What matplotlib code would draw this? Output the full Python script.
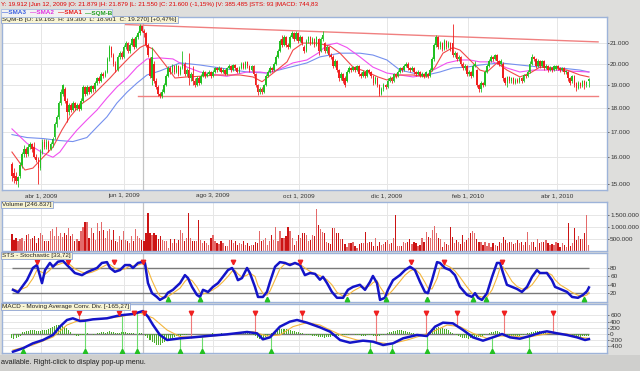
import numpy as np
import matplotlib
matplotlib.use("Agg")
import matplotlib.pyplot as plt
from matplotlib.patches import Rectangle
from matplotlib.ticker import NullLocator

W, H = 640, 371
plt.rcParams["font.family"] = ["Liberation Sans", "DejaVu Sans"]

# ---------------- datos (SQM-B, diario) ----------------
opens = [
    15.75, 15.40, 15.30, 15.10, 15.30, 15.70, 16.10, 16.30, 16.10, 16.40,
    16.50, 16.40, 16.00, 15.90, 15.60, 16.20, 16.60, 16.40, 16.60, 16.30,
    16.50, 16.80, 17.30, 17.60, 18.20, 18.60, 18.80, 18.30, 17.80, 18.10,
    17.90, 18.20, 18.00, 18.10, 17.95, 18.30, 18.90, 18.60, 18.90, 18.70,
    18.95, 18.80, 19.10, 19.30, 19.20, 19.50, 19.40, 19.60, 20.20, 20.80,
    20.40, 20.00, 19.70, 20.30, 20.50, 20.30, 20.80, 21.00, 20.60, 20.90,
    21.20, 20.80, 21.30, 21.50, 21.88, 21.60, 21.50, 20.90, 20.20, 19.30,
    20.00, 19.20, 18.90, 18.60, 18.50, 18.70, 19.00, 19.40, 19.80, 19.60,
    19.90, 19.60, 19.90, 19.50, 19.80, 20.00, 19.50, 19.70, 19.30, 19.50,
    19.20, 19.00, 19.30, 19.10, 19.40, 19.60, 19.40, 19.50, 19.60, 19.40,
    19.60, 19.80, 19.70, 19.80, 19.60, 19.70, 19.50, 19.80, 19.90, 19.70,
    19.95, 19.80, 19.60, 19.80, 20.00, 19.80, 20.05, 19.90, 19.70, 19.90,
    19.50, 19.00, 18.70, 18.80, 18.70, 19.00, 19.40, 19.60, 19.80, 19.70,
    20.00, 20.30, 20.60, 21.20, 20.90, 21.30, 20.90, 20.80, 21.30, 21.50,
    21.20, 21.50, 21.10, 21.30, 20.80, 20.60, 21.10, 21.30, 21.00, 21.20,
    20.90, 21.20, 20.60, 21.20, 21.00, 20.60, 20.80, 20.40, 20.30, 19.90,
    20.10, 19.70, 19.30, 19.50, 19.30, 19.20, 19.60, 19.80, 19.70, 19.85,
    19.70, 19.90, 19.50, 19.40, 19.60, 19.40, 19.70, 19.60, 19.40, 19.10,
    19.30, 19.00, 18.60, 18.80, 19.00, 18.90, 19.20, 19.30, 19.20, 19.50,
    19.40, 19.60, 19.80, 19.70, 19.90, 20.00, 19.80, 19.70, 19.80, 19.60,
    19.50, 19.60, 19.40, 19.50, 19.40, 19.50, 19.40, 19.70, 20.20, 20.90,
    21.30, 20.80, 21.00, 20.70, 21.10, 20.80, 21.00, 21.00, 20.40, 20.50,
    20.20, 20.30, 20.00, 19.80, 19.90, 19.50, 19.60, 19.40, 19.90, 19.70,
    19.00, 18.80, 19.10, 19.00, 19.60, 19.90, 20.10, 20.30, 20.20, 20.40,
    20.10, 20.00, 20.00, 19.30, 19.10, 19.35, 19.20, 19.30, 19.10, 19.25,
    19.15, 19.30, 19.20, 19.45, 19.40, 19.60, 20.00, 20.30, 20.20, 19.90,
    20.10, 19.90, 20.10, 19.80, 19.90, 19.70, 19.80, 19.70, 19.75, 19.90,
    19.80, 19.70, 19.80, 19.60, 19.60, 19.30, 19.20, 19.40, 19.10, 18.85,
    19.10, 18.95, 19.20, 19.00, 19.165]
closes = [
    15.30, 15.20, 15.10, 15.25, 15.70, 16.10, 16.30, 16.10, 16.40, 16.50,
    16.30, 16.00, 15.90, 15.60, 16.20, 16.60, 16.40, 16.60, 16.30, 16.50,
    16.70, 17.30, 17.60, 18.20, 18.70, 19.00, 18.30, 17.80, 18.10, 17.90,
    18.20, 18.00, 18.10, 17.95, 18.30, 18.90, 18.60, 18.90, 18.70, 18.95,
    18.80, 19.10, 19.30, 19.20, 19.50, 19.40, 19.60, 20.20, 20.80, 20.40,
    20.00, 19.70, 20.30, 20.50, 20.30, 20.80, 21.00, 20.60, 20.90, 21.20,
    20.80, 21.30, 21.50, 21.85, 21.60, 21.50, 20.90, 20.40, 19.40, 20.30,
    19.20, 18.90, 18.60, 18.50, 18.70, 19.00, 19.40, 19.80, 19.60, 19.90,
    19.60, 19.90, 19.50, 19.80, 20.00, 19.50, 19.70, 19.30, 19.50, 19.20,
    19.00, 19.30, 19.10, 19.40, 19.60, 19.40, 19.50, 19.60, 19.40, 19.60,
    19.80, 19.70, 19.80, 19.60, 19.70, 19.50, 19.80, 19.90, 19.70, 19.95,
    19.80, 19.60, 19.80, 20.00, 19.80, 20.05, 19.90, 19.70, 19.90, 19.50,
    19.00, 18.70, 18.80, 18.70, 19.00, 19.40, 19.60, 19.80, 19.70, 20.00,
    20.30, 20.60, 21.10, 20.90, 21.30, 20.90, 20.80, 21.30, 21.50, 21.20,
    21.50, 21.10, 21.30, 21.00, 20.60, 21.10, 21.30, 21.00, 21.20, 20.90,
    21.30, 20.60, 21.20, 21.40, 20.60, 20.80, 20.40, 20.30, 19.90, 20.10,
    19.70, 19.30, 19.50, 19.20, 19.00, 19.60, 19.80, 19.70, 19.85, 19.70,
    19.90, 19.50, 19.40, 19.60, 19.40, 19.70, 19.60, 19.40, 19.10, 19.30,
    19.00, 18.60, 18.80, 19.00, 18.90, 19.20, 19.30, 19.20, 19.50, 19.40,
    19.60, 19.80, 19.70, 19.90, 20.00, 19.80, 19.70, 19.80, 19.60, 19.50,
    19.60, 19.40, 19.50, 19.40, 19.60, 19.40, 19.70, 20.20, 20.90, 21.30,
    20.80, 21.00, 20.70, 21.10, 20.80, 21.00, 20.70, 20.40, 20.50, 20.20,
    20.30, 20.00, 19.80, 19.90, 19.50, 19.60, 19.40, 19.90, 20.00, 19.00,
    18.80, 19.10, 19.00, 19.60, 19.90, 20.10, 20.30, 20.20, 20.40, 20.10,
    20.00, 20.10, 19.30, 19.10, 19.35, 19.20, 19.30, 19.10, 19.25, 19.15,
    19.30, 19.20, 19.45, 19.40, 19.60, 20.00, 20.30, 20.20, 19.90, 20.10,
    19.90, 20.10, 19.80, 19.90, 19.70, 19.80, 19.70, 19.90, 19.90, 19.80,
    19.70, 19.80, 19.60, 19.65, 19.30, 19.10, 19.40, 19.00, 18.85, 19.10,
    18.95, 19.20, 19.00, 19.15, 19.27]
highs = [
    15.80, 15.60, 15.45, 15.30, 15.80, 16.20, 16.45, 16.40, 16.50, 16.60,
    16.55, 16.60, 16.10, 16.00, 16.30, 16.70, 16.70, 16.70, 16.65, 16.60,
    16.80, 17.40, 17.70, 18.30, 18.80, 19.05, 18.90, 18.40, 18.20, 18.20,
    18.30, 18.25, 18.20, 18.20, 18.40, 19.00, 18.95, 19.00, 18.95, 19.00,
    19.00, 19.20, 19.35, 19.40, 19.60, 19.60, 19.70, 20.30, 20.90, 20.85,
    20.50, 20.10, 20.40, 20.60, 20.60, 20.90, 21.10, 21.05, 21.00, 21.30,
    21.25, 21.40, 21.60, 22.00, 21.88, 21.70, 21.55, 21.00, 20.30, 20.80,
    20.10, 19.30, 19.00, 18.70, 18.80, 19.10, 19.50, 19.90, 19.90, 20.00,
    19.95, 20.00, 19.95, 19.90, 20.60, 20.05, 19.80, 20.50, 19.60, 19.90,
    19.30, 19.40, 19.40, 19.50, 19.70, 19.65, 19.60, 19.70, 19.65, 19.70,
    19.85, 19.85, 19.90, 19.85, 19.80, 19.75, 19.85, 20.00, 19.95, 20.00,
    20.00, 19.85, 19.90, 20.05, 20.05, 20.10, 20.10, 19.95, 19.95, 19.95,
    19.55, 19.05, 18.90, 18.90, 19.05, 19.50, 19.70, 19.90, 19.85, 20.05,
    20.40, 20.70, 21.20, 21.40, 21.40, 21.35, 21.00, 21.40, 21.60, 21.55,
    21.60, 21.55, 21.40, 21.35, 20.90, 21.20, 21.35, 21.35, 21.30, 21.25,
    21.35, 21.25, 21.30, 21.60, 21.05, 20.90, 20.85, 20.50, 20.40, 20.20,
    20.15, 19.75, 19.60, 19.55, 19.40, 19.70, 19.90, 19.85, 19.90, 19.90,
    19.95, 19.95, 19.60, 19.70, 19.65, 19.75, 19.75, 19.65, 19.45, 19.40,
    19.35, 19.05, 18.90, 19.10, 19.05, 19.30, 19.40, 19.35, 19.55, 19.55,
    19.70, 19.85, 19.85, 20.00, 20.05, 20.05, 19.85, 19.90, 19.85, 19.65,
    19.70, 19.65, 19.60, 19.55, 19.65, 19.55, 19.80, 20.30, 21.00, 21.40,
    21.35, 21.10, 21.05, 21.20, 21.15, 21.10, 21.05, 22.00, 20.60, 20.55,
    20.40, 20.35, 20.05, 20.00, 19.95, 19.70, 19.65, 20.00, 20.10, 19.75,
    19.05, 19.20, 19.15, 19.70, 20.00, 20.20, 20.40, 20.35, 20.45, 20.45,
    20.15, 20.20, 20.05, 19.35, 19.40, 19.40, 19.35, 19.35, 19.30, 19.30,
    19.35, 19.35, 19.50, 19.50, 19.70, 20.10, 20.45, 20.35, 20.25, 20.20,
    20.15, 20.15, 20.15, 20.00, 19.95, 19.90, 19.85, 19.95, 19.95, 19.95,
    19.85, 19.85, 19.85, 19.70, 19.65, 19.35, 19.45, 19.45, 19.15, 19.20,
    19.15, 19.25, 19.25, 19.20, 19.30]
lows = [
    15.10, 15.05, 15.00, 14.90, 15.20, 15.60, 16.00, 16.00, 16.05, 16.30,
    16.20, 15.95, 15.80, 15.00, 15.50, 16.10, 16.30, 16.30, 16.20, 16.25,
    16.40, 16.70, 17.20, 17.50, 18.10, 18.50, 18.20, 17.40, 17.70, 17.80,
    17.85, 17.90, 17.90, 17.85, 17.90, 18.25, 18.50, 18.55, 18.60, 18.65,
    18.70, 18.75, 19.00, 19.10, 19.15, 19.30, 19.35, 19.55, 20.10, 20.30,
    19.90, 19.60, 19.65, 20.20, 20.20, 20.25, 20.70, 20.50, 20.50, 20.85,
    20.70, 20.75, 21.20, 21.40, 21.55, 21.30, 20.80, 20.30, 19.30, 19.00,
    19.10, 18.80, 18.50, 18.40, 18.40, 18.65, 18.95, 19.35, 19.50, 19.55,
    19.50, 19.55, 19.40, 19.45, 19.75, 19.40, 19.40, 19.00, 19.20, 19.00,
    18.90, 18.95, 19.00, 19.05, 19.35, 19.30, 19.35, 19.45, 19.30, 19.35,
    19.55, 19.60, 19.65, 19.55, 19.55, 19.45, 19.45, 19.75, 19.60, 19.65,
    19.70, 19.55, 19.55, 19.75, 19.75, 19.75, 19.80, 19.60, 19.65, 19.40,
    18.90, 18.55, 18.60, 18.60, 18.65, 18.95, 19.35, 19.55, 19.60, 19.65,
    19.95, 20.25, 20.55, 20.80, 20.85, 20.80, 20.70, 20.75, 21.25, 21.10,
    21.15, 21.00, 21.05, 20.90, 20.50, 20.55, 21.00, 20.90, 20.95, 20.80,
    20.85, 20.40, 20.55, 21.10, 20.50, 20.50, 20.30, 20.20, 19.80, 19.85,
    19.60, 19.20, 19.25, 19.10, 18.90, 19.15, 19.55, 19.60, 19.65, 19.60,
    19.65, 19.40, 19.30, 19.35, 19.30, 19.35, 19.50, 19.30, 19.00, 19.05,
    18.90, 18.50, 18.55, 18.75, 18.80, 18.85, 19.15, 19.10, 19.15, 19.30,
    19.35, 19.55, 19.60, 19.65, 19.85, 19.70, 19.60, 19.65, 19.50, 19.40,
    19.45, 19.35, 19.35, 19.30, 19.35, 19.30, 19.35, 19.65, 20.10, 20.80,
    20.70, 20.70, 20.60, 20.65, 20.70, 20.75, 20.60, 20.30, 20.30, 20.10,
    20.10, 19.90, 19.70, 19.70, 19.40, 19.40, 19.30, 19.35, 19.85, 18.90,
    18.70, 18.70, 18.90, 18.95, 19.55, 19.85, 20.05, 20.10, 20.15, 20.00,
    19.90, 19.95, 19.20, 19.00, 18.90, 19.10, 19.10, 19.05, 19.05, 19.10,
    19.10, 19.10, 19.15, 19.30, 19.35, 19.55, 19.95, 20.10, 19.80, 19.85,
    19.80, 19.85, 19.70, 19.75, 19.60, 19.65, 19.60, 19.65, 19.70, 19.70,
    19.60, 19.65, 19.50, 19.50, 19.20, 19.00, 19.10, 18.90, 18.75, 18.80,
    18.85, 18.90, 18.80, 18.90, 18.901]

# volumen en millones de acciones
volumes = [
    0.71, 0.46, 0.53, 0.39, 0.49, 0.53, 0.39, 0.67, 0.71, 0.49,
    0.55, 0.60, 0.32, 0.53, 0.74, 0.67, 0.42, 0.42, 0.39, 0.81,
    0.90, 0.62, 0.99, 0.60, 0.74, 0.57, 0.74, 0.67, 0.94, 0.60,
    0.71, 0.39, 0.50, 0.39, 0.81, 1.01, 1.19, 1.19, 0.53, 0.94,
    0.74, 0.46, 1.15, 0.85, 1.19, 0.88, 0.53, 0.81, 0.90, 0.46,
    0.88, 0.39, 0.35, 0.60, 0.45, 0.81, 0.46, 0.39, 0.32, 0.60,
    0.39, 0.90, 0.60, 0.52, 0.46, 0.39, 0.74, 1.57, 0.74, 0.67,
    0.74, 0.67, 0.49, 0.60, 0.46, 0.39, 0.42, 0.11, 0.49, 0.32,
    0.49, 0.32, 0.46, 0.88, 0.74, 0.39, 0.53, 1.57, 0.53, 0.39,
    0.39, 0.39, 1.29, 0.46, 0.32, 0.39, 0.32, 0.25, 0.53, 0.67,
    0.39, 0.32, 0.30, 0.39, 0.32, 0.18, 0.18, 0.46, 0.46, 0.32,
    0.39, 0.25, 0.32, 0.28, 0.39, 0.25, 0.32, 0.18, 0.25, 0.25,
    0.35, 0.32, 0.81, 0.39, 0.45, 0.53, 0.25, 0.39, 0.67, 0.46,
    1.01, 0.39, 0.81, 0.53, 0.53, 0.60, 1.01, 0.81, 0.53, 0.25,
    0.39, 0.67, 0.53, 0.74, 0.74, 0.67, 0.39, 0.46, 0.67, 0.60,
    1.74, 1.08, 0.90, 0.80, 0.73, 0.38, 0.34, 0.28, 0.94, 0.94,
    0.73, 0.73, 0.48, 0.48, 0.28, 0.17, 0.31, 0.31, 0.38, 0.21,
    0.10, 0.30, 0.31, 0.31, 0.80, 0.31, 0.38, 0.38, 0.20, 0.52,
    0.20, 0.38, 0.25, 0.28, 0.38, 0.45, 0.28, 0.31, 0.52, 1.50,
    0.20, 0.20, 0.20, 0.38, 0.31, 0.38, 0.48, 0.28, 0.38, 0.31,
    0.20, 0.24, 0.52, 0.38, 0.80, 0.59, 0.52, 0.87, 1.04, 0.76,
    0.52, 0.48, 0.17, 0.38, 0.28, 0.24, 1.01, 0.56, 0.31, 0.45,
    0.38, 0.28, 0.66, 0.35, 0.45, 0.52, 0.73, 0.84, 0.73, 0.48,
    0.38, 0.38, 0.24, 0.38, 0.20, 0.31, 0.17, 0.31, 0.24, 0.20,
    0.38, 0.31, 0.59, 0.45, 0.31, 0.38, 0.38, 0.28, 0.31, 0.45,
    0.31, 0.38, 0.24, 0.38, 0.80, 0.24, 0.38, 0.38, 0.17, 0.48,
    0.31, 0.38, 0.38, 0.45, 0.31, 0.24, 0.28, 0.24, 0.38, 0.31,
    0.17, 0.31, 0.24, 0.17, 1.15, 0.20, 0.31, 0.94, 0.45, 0.62,
    0.48, 0.48, 0.73, 1.50, 0.247]

# medias moviles (dia, precio)
sma1_days = [0, 6.4, 10.3, 15.3, 20.2, 24.6, 28.6, 33.5, 38.4, 43.3, 48.3, 53.2, 58.1,
             63.1, 65.5, 69.5, 76.4, 80.3, 86.2, 92.6, 101, 112.3, 118.7, 123.2, 130.5,
             135.5, 138.4, 143.3, 150.2, 156.7, 161.6, 168, 174.9, 180.3, 184.7, 191.1,
             197.5, 204.4, 208.4, 212.3, 217.2, 220.7, 225.6, 230.5, 234, 238.9, 243.8,
             250.2, 255.2, 260.1, 266.5, 273.4, 279.8, 284.2]
sma1 = [16.19, 15.51, 15.58, 15.99, 16.38, 17.06, 17.61, 18.11, 18.42, 18.86, 19.32,
        19.83, 20.32, 20.78, 20.90, 20.70, 19.83, 19.32, 19.37, 19.40, 19.46, 19.46,
        19.37, 19.15, 19.69, 20.08, 20.65, 21.00, 21.00, 20.85, 20.50, 19.83, 19.60,
        19.37, 19.23, 19.46, 19.46, 19.37, 19.83, 20.50, 20.78, 20.65, 20.17, 19.69,
        19.60, 20.03, 19.69, 19.37, 19.55, 19.83, 19.79, 19.69, 19.46, 19.37]
sma2_days = [0, 7.4, 15.3, 20.2, 23.6, 27.1, 32, 36.9, 41.9, 46.8, 51.7, 56.7, 61.6,
             66.5, 72.9, 79.3, 86.2, 92.6, 101, 105.9, 115.8, 122.2, 125.6, 132, 138.4,
             145.3, 150.7, 155.2, 160.1, 165, 171.4, 177.8, 184.7, 191.1, 197.5, 204.4,
             207.4, 214.3, 220.7, 225.6, 230.5, 236.9, 243.8, 250.2, 256.7, 266.5, 273.4,
             284.2]
sma2 = [17.11, 16.53, 16.15, 15.99, 16.19, 16.58, 17.06, 17.48, 17.90, 18.42, 18.91,
        19.32, 19.83, 20.22, 20.27, 20.22, 19.83, 19.60, 19.46, 19.40, 19.60, 19.60,
        19.55, 19.74, 20.03, 20.17, 20.50, 20.90, 21.00, 20.78, 20.32, 19.83, 19.55,
        19.46, 19.37, 19.46, 19.69, 20.03, 20.17, 20.17, 20.08, 20.08, 19.79, 19.60,
        19.69, 19.69, 19.65, 19.60]
sma3_days = [0, 7.4, 15.3, 23.6, 30, 36.9, 41.9, 46.8, 51.7, 56.7, 61.6, 66.5, 72.9,
             82.8, 92.6, 102.5, 115.8, 125.6, 135.5, 145.3, 151.7, 161.6, 171.4, 177.8,
             184.7, 191.1, 197.5, 204.4, 210.8, 217.2, 224.1, 230.5, 240.4, 250.2, 260.1,
             270, 279.8, 284.2]
sma3 = [16.88, 16.76, 16.72, 16.64, 16.60, 16.76, 17.19, 17.61, 18.20, 18.68, 19.09,
        19.46, 19.65, 20.03, 19.93, 19.79, 19.60, 19.55, 19.79, 20.03, 20.32, 20.50,
        20.50, 20.41, 20.17, 19.69, 19.55, 19.46, 19.60, 19.79, 19.83, 19.93, 20.03,
        19.93, 19.83, 19.79, 19.69, 19.60]

# lineas de soporte / resistencia
resist_days, resist_prices = [56, 288.7], [21.95, 21.06]
support_days, support_prices = [62, 288.7], [18.5, 18.5]

# estocastico %K / %D
sts_days = [0.5, 3, 7.4, 10.3, 12.3, 14.8, 16.3, 18.7, 20.2, 22.7, 25.1, 27.1, 28.6, 31,
            34.5, 37, 39.4, 41.9, 44.3, 46.8, 48.3, 50.7, 53.2, 55.7, 58.1, 59.6, 62.1, 64,
            65.5, 67, 69, 71.4, 72.9, 75.4, 76.8, 79.3, 82.8, 85.2, 86.7, 88.7, 91.1, 92.6,
            94.1, 96.6, 99, 101.5, 103.9, 106.4, 108.4, 109.9, 111.3, 113.3, 115.8, 117.2,
            119.7, 121.2, 123.6, 125.6, 127.1, 129.6, 132, 134.5, 136.9, 139.4, 141.9,
            144.3, 146.8, 149.3, 151.7, 153.2, 155.2, 157.6, 160.1, 163.1, 165.5, 168,
            171.4, 173.9, 176.4, 177.8, 179.8, 181.3, 183.7, 185.2, 187.7, 191.1, 193.6,
            196.1, 198.5, 201, 203.4, 204.9, 206.9, 209.4, 210.8, 213.3, 215.8, 218.2,
            220.7, 224.1, 226.6, 228.1, 229.6, 231.5, 234, 236.5, 238.9, 240.4, 241.9,
            243.8, 246.3, 248.8, 251.2, 253.7, 256.2, 258.6, 260.1, 263.5, 266, 267.5, 270,
            273.4, 275.9, 278.8, 281.3, 283.3, 284.2]
sts_k = [28, 22, 51, 80, 87, 44, 75, 92, 83, 95, 97, 87, 80, 68, 63, 70, 75, 80, 92, 94,
         80, 71, 75, 87, 87, 80, 92, 94, 92, 44, 20, 11, 4, 11, 21, 28, 44, 63, 56, 35, 16,
         11, 28, 23, 35, 44, 59, 75, 80, 68, 51, 56, 80, 68, 35, 11, 11, 23, 47, 83, 94,
         92, 87, 92, 87, 63, 68, 66, 52, 59, 44, 23, 9, 9, 28, 35, 40, 28, 47, 61, 44, 4,
         9, 28, 51, 63, 75, 83, 75, 47, 23, 20, 51, 94, 92, 80, 75, 63, 35, 16, 11, 20, 9,
         4, 20, 59, 92, 92, 68, 40, 35, 30, 23, 35, 59, 75, 68, 68, 51, 35, 30, 23, 11, 9,
         16, 25, 33.7]
sts_d = [30, 26, 35, 55, 75, 70, 65, 75, 85, 88, 92, 92, 88, 78, 70, 67, 70, 75, 82, 88,
         88, 80, 75, 78, 85, 85, 87, 90, 92, 75, 50, 25, 13, 9, 12, 20, 32, 48, 55, 50, 35,
         22, 18, 22, 28, 36, 47, 60, 72, 74, 66, 58, 63, 68, 60, 38, 20, 15, 25, 52, 78,
         90, 91, 90, 89, 80, 72, 66, 62, 58, 52, 40, 22, 13, 15, 25, 34, 34, 38, 45, 50,
         35, 18, 15, 28, 48, 63, 73, 78, 66, 46, 32, 30, 55, 78, 88, 82, 73, 58, 35, 20,
         15, 13, 11, 11, 28, 57, 80, 83, 68, 48, 36, 30, 30, 40, 56, 67, 70, 63, 52, 40,
         30, 22, 15, 12, 16, 22]
sts_sell_days = [12.3, 27.6, 50.2, 64.5, 108.9, 141.9, 196.5, 212.8, 241.4]
sts_buy_days = [76.8, 92.6, 125.6, 165.0, 184.2, 204.4, 227.1, 233.5, 281.8]

# MACD
macd_days = [0.5, 5.4, 10.3, 15.3, 20.2, 23.6, 27.1, 30, 33.5, 36, 39.9, 46.8, 51.7, 54.7,
             59.6, 64.5, 67, 69.5, 72.9, 76.4, 82.8, 89.2, 96.1, 105.9, 115.8, 120.7,
             123.6, 127.1, 132, 136.9, 140.4, 145.3, 151.7, 156.7, 161.6, 166.5, 172.9,
             177.8, 182.8, 187.7, 192.6, 199.5, 204.4, 208.4, 212.3, 217.2, 222.2, 227.1,
             232, 236.9, 241.4, 245.3, 250.2, 255.2, 260.1, 263.5, 268.5, 273.4, 278.3,
             282.3, 284.2]
macd_line = [-571, -462, -301, -194, -32, 237, 452, 506, 419, 430, 473, 506, 581, 613,
             645, 740, 559, 290, -32, -194, -140, -108, -65, -11, 65, 22, -172, -108, 237,
             398, 452, 366, 215, 75, -194, -280, -215, -247, -355, -301, -140, -32, -65,
             237, 366, 344, 129, -108, -215, -108, 0, -108, -151, -65, 43, 86, 22, -32,
             -108, -194, -165]
signal_days = [0.5, 10.3, 20.2, 27.1, 33.5, 43.3, 53.2, 63.1, 69.5, 76.4, 82.8, 92.6,
               108.9, 118.7, 125.6, 132, 138.4, 145.3, 151.7, 156.7, 163.1, 170, 177.8,
               186.2, 194.6, 201, 207.4, 214.3, 220.7, 227.1, 234, 240.4, 246.8, 253.7,
               260.1, 266.5, 273.4, 279.8, 284.2]
signal_line = [-516, -355, -97, 290, 452, 484, 559, 677, 516, 129, -86, -108, 0, 75, -65,
               -32, 237, 366, 290, 129, -65, -194, -247, -323, -194, -65, 75, 290, 237,
               22, -140, -65, -65, -108, -32, 43, 0, -108, -140]
macd_hist = [
    -120, -150, -130, -100, -60, 60, 80, 100, 110, 130,
    140, 120, 100, 90, 100, 120, 130, 140, 170, 200,
    230, 260, 280, 290, 280, 260, 230, 180, 120, 60,
    10, -30, -50, -60, -40, -20, 0, 20, 10, -10,
    -20, 10, 30, 40, 60, 50, 40, 70, 90, 80,
    60, 40, 30, 40, 50, 60, 50, 40, 30, 20,
    20, 10, 0, 20, 30, 10, -50, -120, -200, -260,
    -300, -340, -355, -340, -300, -260, -220, -180, -150, -120,
    -100, -80, -60, -50, -40, -30, -20, -10, -10, 0,
    5, 0, -10, -10, 0, 10, 10, 15, 10, 20,
    15, 10, 10, 20, 15, 10, 10, 20, 20, 30,
    20, 40, 50, 60, 50, 40, 30, 20, 0, -40,
    -80, -120, -150, -140, -120, -90, -50, -10, 40, 80,
    120, 150, 160, 170, 160, 150, 140, 120, 100, 90,
    80, 60, 40, 20, 0, -20, -30, -40, -50, -60,
    -80, -90, -100, -110, -120, -110, -100, -90, -80, -70,
    -60, -50, -40, -30, -30, -20, -20, -10, -10, -20,
    -30, -40, -50, -60, -50, -40, -30, -40, -50, -60,
    -70, -60, -40, -20, 0, 20, 50, 80, 100, 110,
    120, 130, 120, 110, 100, 80, 60, 40, 20, 0,
    -10, -20, -10, 0, 20, 60, 100, 150, 180, 200,
    210, 200, 190, 170, 150, 120, 80, 40, 0, -40,
    -70, -100, -120, -130, -140, -150, -140, -130, -120, -110,
    -100, -90, -60, -30, 0, 30, 60, 80, 100, 90,
    70, 40, 10, -20, -40, -60, -70, -80, -70, -60,
    -50, -40, -20, 0, 20, 40, 60, 80, 90, 100,
    90, 80, 70, 60, 40, 20, 10, 0, -10, -20,
    -30, -40, -30, -30, -40, -50, -60, -70, -80, -90,
    -90, -80, -70, -60, -50]
macd_sell_days = [33.0, 52.7, 60.1, 65.0, 88.2, 119.7, 142.9, 179.3, 204.0, 219.2, 242.4, 266.5]
macd_buy_days = [5.4, 36.0, 54.2, 61.6, 82.8, 93.6, 127.6, 176.4, 187.2, 204.4, 236.5, 254.7]

tick_days = [14.3, 55.2, 99.0, 141.4, 184.7, 224.6, 268.5]
tick_labels = ["abr 1, 2009", "jun 1, 2009", "ago 3, 2009", "oct 1, 2009",
               "dic 1, 2009", "feb 1, 2010", "abr 1, 2010"]
cursor_day = 64.5

# ---------------- estilo ----------------
FS = 4.6
BORDE = "#9db3d9"
VERDE = "#22c022"
ROJO = "#f02020"
AZUL = "#1414c8"
NARANJA = "#f4b63c"
BG = "#dededc"

fig = plt.figure(figsize=(6.4, 3.71), dpi=100)
fig.patch.set_facecolor(BG)


def rect(x0, y0, x1, y1):
    return [x0 / W, 1 - y1 / H, (x1 - x0) / W, (y1 - y0) / H]


def panel(r):
    ax = fig.add_axes(r)
    ax.set_facecolor("white")
    for sp in ax.spines.values():
        sp.set_edgecolor(BORDE)
        sp.set_linewidth(1.0)
    ax.set_xlim(-4.9, 293.1)
    ax.set_xticks(tick_days)
    ax.tick_params(axis="x", length=0, labelbottom=False)
    ax.yaxis.tick_right()
    ax.tick_params(axis="y", labelsize=FS, length=1.5, width=0.5, pad=0.8,
                   colors="#333333")
    ax.grid(True, color="#e6e6e6", lw=0.7)
    ax.set_axisbelow(True)
    ax.axvline(cursor_day, color="#c4c4c4", lw=0.9, zorder=1)
    return ax


def etiqueta(ax, texto):
    ax.text(0.0, 1.0, texto, transform=ax.transAxes, ha="left", va="top",
            fontsize=FS, color="#222222", zorder=10,
            bbox=dict(boxstyle="square,pad=0.2", fc="#f8f4d2", ec="#8ea4d4", lw=0.6))


x = np.arange(len(closes))
o = np.array(opens)
c = np.array(closes)
up = c >= o
col = np.where(up, VERDE, ROJO)

# ---- precio ----
ax_p = panel(rect(2, 17, 607, 190))
ax_p.set_yscale("log")
ax_p.set_ylim(14.787, 22.35)
ax_p.set_yticks([15, 16, 17, 18, 19, 20, 21])
ax_p.set_yticklabels(["15.000", "16.000", "17.000", "18.000", "19.000", "20.000", "21.000"])
ax_p.yaxis.set_minor_locator(NullLocator())
ax_p.tick_params(axis="x", labelbottom=True, labelsize=FS, pad=2.5, colors="#333333")
ax_p.set_xticklabels(tick_labels)
ax_p.plot(sma3_days, sma3, color="#7590ee", lw=0.8, zorder=2)
ax_p.plot(sma2_days, sma2, color="#f050f0", lw=0.8, zorder=2)
ax_p.plot(sma1_days, sma1, color="#f24848", lw=0.8, zorder=2)
ax_p.plot(resist_days, resist_prices, color="#f08080", lw=1.0, zorder=2)
ax_p.plot(support_days, support_prices, color="#f08080", lw=1.0, zorder=2)
ax_p.vlines(x, lows, highs, colors=col, lw=0.6, zorder=3)
ax_p.bar(x, np.maximum(np.abs(c - o), 0.025), bottom=np.minimum(o, c), width=0.8,
         color=col, lw=0, zorder=3)
etiqueta(ax_p, "SQM-B [O: 19.165  H: 19.300  L: 18.901  C: 19.270] [+0,47%]")

# ---- volumen ----
ax_v = panel(rect(2, 202, 607, 251))
ax_v.bar(x, volumes, width=0.6, color=np.where(up, "#e46a6a", "#cc1414"), lw=0)
ax_v.set_ylim(-0.013, 2.05)
ax_v.set_yticks([0.5, 1.0, 1.5])
ax_v.set_yticklabels(["500.000", "1.000.000", "1.500.000"])
etiqueta(ax_v, "Volume [246.837]")

# ---- estocastico ----
ax_s = panel(rect(2, 253, 607, 302))
ax_s.set_ylim(-1, 115.7)
ax_s.set_yticks([20, 40, 60, 80])
ax_s.hlines([20, 80], x[0], x[-1], colors="#7a7a7a", lw=1.0, zorder=2)
ax_s.plot(sts_days, sts_d, color=NARANJA, lw=0.8, zorder=3)
ax_s.plot(sts_days, sts_k, color=AZUL, lw=1.8, zorder=4)
ax_s.plot(sts_sell_days, [94] * len(sts_sell_days), "v", color=ROJO, ms=3.2, zorder=5)
ax_s.plot(sts_buy_days, [6] * len(sts_buy_days), "^", color=VERDE, ms=3.2, zorder=5)
etiqueta(ax_s, "STS - Stochastic [33,72]")

# ---- MACD ----
ax_m = panel(rect(2, 304, 607, 353))
ax_m.set_ylim(-613, 968)
ax_m.set_yticks([-400, -200, 0, 200, 400, 600])
ax_m.set_yticklabels(["-400", "-200", "0", "200", "400", "600"])
ax_m.hlines(0, x[0], x[-1], colors="#7a7a7a", lw=1.0, zorder=2)
ax_m.bar(x, macd_hist, width=0.5, color="#4aac2a", lw=0, zorder=3)
sell_y = np.interp(macd_sell_days, macd_days, macd_line)
buy_y = np.interp(macd_buy_days, macd_days, macd_line)
ax_m.vlines(macd_sell_days, sell_y, 677, colors="#f07a7a", lw=0.8, zorder=3)
ax_m.vlines(macd_buy_days, -548, buy_y, colors="#6cdc6c", lw=0.8, zorder=3)
ax_m.plot(signal_days, signal_line, color=NARANJA, lw=0.8, zorder=4)
ax_m.plot(macd_days, macd_line, color=AZUL, lw=1.8, zorder=4)
ax_m.plot(macd_sell_days, [677] * len(macd_sell_days), "v", color=ROJO, ms=3.2, zorder=5)
ax_m.plot(macd_buy_days, [-548] * len(macd_buy_days), "^", color=VERDE, ms=3.2, zorder=5)
etiqueta(ax_m, "MACD - Moving Average Conv. Div. [-165,27]")

# ---- cabecera, leyenda y barra de estado ----
fig.text(1 / W, 1 - 4.5 / H,
         "Y: 19.912 |Jun 12, 2009 |O: 21.879 |H: 21.879 |L: 21.550 |C: 21.600 (-1,15%) "
         "|V: 385.485 |STS: 93 |MACD: 744,83",
         color="#e00000", fontsize=4.5, va="center", ha="left")
fig.patches.append(Rectangle((1 / W, 1 - 17 / H), 111 / W, 8 / H, transform=fig.transFigure,
                             fc="#f2f2f2", ec="#a8bce0", lw=0.6))
for xp, lab, cc in [(2, "—SMA3", "#3b5fe0"), (30, "—SMA2", "#e030e0"),
                    (58, "—SMA1", "#e82020"), (85, "—SQM-B", "#20a020")]:
    fig.text(xp / W, 1 - 13 / H, lab, color=cc, fontsize=FS, va="center", ha="left",
             fontweight="bold")

fig.patches.append(Rectangle((0, 0), 1, 16 / H, transform=fig.transFigure,
                             fc="#cfcfcd", ec="none"))
fig.text(1 / W, 9 / H, "available. Right-click to display pop-up menu.",
         fontsize=5.2, color="#222222", va="center", ha="left")

fig.savefig("out.png", dpi=100, facecolor=fig.get_facecolor())
